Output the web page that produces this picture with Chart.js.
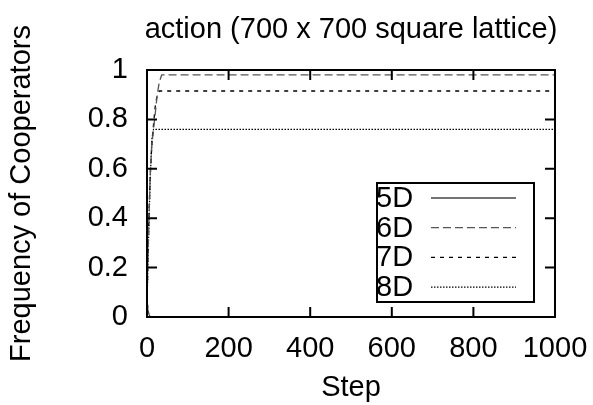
<!DOCTYPE html>
<html>
<head>
<meta charset="utf-8">
<script src="https://cdn.jsdelivr.net/npm/chart.js@4"></script>
<style>
  html, body { margin: 0; padding: 0; background: #fff; }
  #wrap { width: 593px; height: 405px; }
</style>
</head>
<body>
<div id="wrap"><canvas id="chart" width="593" height="405"></canvas></div>
<script>
// Data
const steps = [0, 2, 5, 8, 12, 16, 20, 25, 30, 36, 1000];
const d5 = [0.05, 0.03, 0.01, 0.0, 0.0, 0.0, 0.0, 0.0, 0.0, 0.0, 0.0];
const d6 = [0.04, 0.22, 0.42, 0.58, 0.7, 0.76, 0.82, 0.9, 0.95, 0.98, 0.98];
const d7 = [0.04, 0.22, 0.42, 0.58, 0.7, 0.78, 0.85, 0.9, 0.915, 0.915, 0.915];
const d8 = [0.04, 0.2, 0.4, 0.56, 0.72, 0.76, 0.76, 0.76, 0.76, 0.76, 0.76];
const xTicks = [0, 200, 400, 600, 800, 1000];
const yTicks = [0, 0.2, 0.4, 0.6, 0.8, 1];
const titleText = 'action (700 x 700 square lattice)';

const FONT = "'Liberation Sans', Arial, sans-serif";

function pts(vals) {
    return steps.map((s, i) => ({ x: s, y: vals[i] }));
}

// Title centred over the plot area
const plotTitle = {
    id: 'plotTitle',
    afterDraw(chart) {
        const { ctx, chartArea: a } = chart;
        ctx.save();
        ctx.font = '29px ' + FONT;
        ctx.fillStyle = '#000';
        ctx.textAlign = 'center';
        ctx.textBaseline = 'alphabetic';
        ctx.fillText(titleText, (a.left + a.right) / 2, 38);
        ctx.restore();
    }
};

// Frame with inward ticks, like the gnuplot border
const framePlugin = {
    id: 'frame',
    afterDatasetsDraw(chart) {
        const { ctx, chartArea: a, scales } = chart;
        ctx.save();
        ctx.strokeStyle = '#000';
        ctx.lineWidth = 2;
        ctx.strokeRect(a.left, a.top, a.right - a.left, a.bottom - a.top);
        ctx.beginPath();
        xTicks.forEach(v => {
            const x = scales.x.getPixelForValue(v);
            ctx.moveTo(x, a.bottom); ctx.lineTo(x, a.bottom - 10);
            ctx.moveTo(x, a.top); ctx.lineTo(x, a.top + 10);
        });
        yTicks.forEach(v => {
            const y = scales.y.getPixelForValue(v);
            ctx.moveTo(a.left, y); ctx.lineTo(a.left + 10, y);
            ctx.moveTo(a.right, y); ctx.lineTo(a.right - 10, y);
        });
        ctx.stroke();
        ctx.restore();
    }
};

// Boxed legend inside the plot, bottom right
const boxLegend = {
    id: 'boxLegend',
    afterDraw(chart) {
        const { ctx } = chart;
        const bx = 377, by = 183, bw = 157, bh = 119;
        ctx.save();
        ctx.fillStyle = '#fff';
        ctx.fillRect(bx, by, bw, bh);
        ctx.strokeStyle = '#000';
        ctx.lineWidth = 2;
        ctx.strokeRect(bx, by, bw, bh);
        ctx.font = '29px ' + FONT;
        ctx.textBaseline = 'middle';
        chart.data.datasets.forEach((ds, i) => {
            const y = by + 15 + i * 29.7;
            ctx.fillStyle = '#000';
            ctx.fillText(ds.label, bx - 1, y + 1);
            ctx.beginPath();
            ctx.strokeStyle = ds.borderColor;
            ctx.lineWidth = ds.borderWidth;
            ctx.setLineDash(ds.borderDash || []);
            ctx.moveTo(bx + 54, y);
            ctx.lineTo(bx + 139, y);
            ctx.stroke();
            ctx.setLineDash([]);
        });
        ctx.restore();
    }
};

new Chart(document.getElementById('chart'), {
    type: 'line',
    data: {
        datasets: [
            { label: '5D', data: pts(d5), borderColor: '#444', borderWidth: 1.3, borderDash: [] },
            { label: '6D', data: pts(d6), borderColor: '#555', borderWidth: 1.3, borderDash: [8, 4] },
            { label: '7D', data: pts(d7), borderColor: '#000', borderWidth: 1.3, borderDash: [4, 5] },
            { label: '8D', data: pts(d8), borderColor: '#000', borderWidth: 1.3, borderDash: [1.5, 1.5] }
        ]
    },
    options: {
        responsive: false,
        animation: false,
        layout: { padding: { left: 0, right: 38, top: 70, bottom: 0 } },
        elements: { point: { radius: 0 }, line: { tension: 0 } },
        plugins: {
            legend: { display: false },
            tooltip: { enabled: false },
            title: { display: false }
        },
        scales: {
            x: {
                type: 'linear',
                min: 0,
                max: 1000,
                grid: { display: false, drawTicks: false },
                border: { display: false },
                afterBuildTicks(scale) { scale.ticks = xTicks.map(v => ({ value: v })); },
                afterFit(scale) {
                    scale.height = 88;
                    scale.paddingLeft = 0;
                    scale.paddingRight = 0;
                },
                ticks: {
                    color: '#000',
                    padding: 15,
                    maxRotation: 0,
                    autoSkip: false,
                    font: { family: FONT, size: 29 },
                    callback: v => String(v)
                },
                title: {
                    display: true,
                    text: 'Step',
                    color: '#000',
                    font: { family: FONT, size: 29 },
                    padding: { top: 0, bottom: 0 }
                }
            },
            y: {
                min: 0,
                max: 1,
                grid: { display: false, drawTicks: false },
                border: { display: false },
                afterBuildTicks(scale) { scale.ticks = yTicks.map(v => ({ value: v })); },
                afterFit(scale) {
                    scale.width = 147;
                    scale.paddingTop = 0;
                    scale.paddingBottom = 0;
                },
                ticks: {
                    color: '#000',
                    padding: 19,
                    autoSkip: false,
                    font: { family: FONT, size: 29 },
                    callback: v => String(v)
                },
                title: {
                    display: true,
                    text: 'Frequency of Cooperators',
                    color: '#000',
                    font: { family: FONT, size: 29 },
                    padding: { top: 5, bottom: 0 }
                }
            }
        }
    },
    plugins: [framePlugin, boxLegend, plotTitle]
});
</script>
</body>
</html>
